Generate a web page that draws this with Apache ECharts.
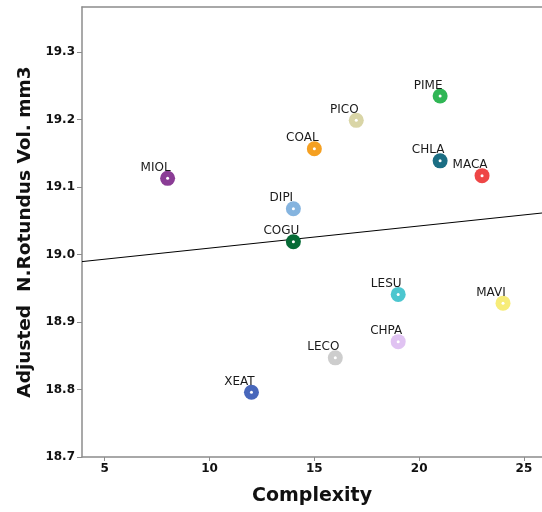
<!DOCTYPE html>
<html lang="en" style="height: 100%">
<head>
    <meta charset="UTF-8">
    <title>Complexity vs Adjusted N.Rotundus Vol.</title>
    <script src="https://cdn.jsdelivr.net/npm/echarts@6/dist/echarts.min.js"></script>
</head>
<body style="height: 100%; margin: 0">
<div id="main" style="width: 542px; height: 512px"></div>
<script>
    var species = ['MIOL', 'DIPI', 'COGU', 'COAL', 'PICO', 'PIME', 'CHLA', 'MACA', 'LESU', 'MAVI', 'CHPA', 'LECO', 'XEAT'];
    var complexity = [8, 14, 14, 15, 17, 21, 21, 23, 19, 24, 19, 16, 12];
    var volume = [19.113, 19.068, 19.019, 19.157, 19.199, 19.235, 19.139, 19.117, 18.941, 18.928, 18.871, 18.847, 18.796];
    var colors = ['#8a3c95', '#85b4df', '#066b36', '#f5a021', '#d9d5a6', '#30b655', '#1b6e84', '#ee4646', '#4cc6cf', '#f7ec78', '#e0c3f2', '#cdcdcd', '#4867bb'];
    var xTicks = [5, 10, 15, 20, 25];
    var yTicks = [18.7, 18.8, 18.9, 19.0, 19.1, 19.2, 19.3];
    var xRange = [3.916, 25.86];
    var yRange = [18.7, 19.367];

    // least squares fit line
    var n = complexity.length, mx = 0, my = 0;
    for (var i = 0; i < n; i++) { mx += complexity[i]; my += volume[i]; }
    mx /= n; my /= n;
    var sxy = 0, sxx = 0;
    for (var i = 0; i < n; i++) {
        sxy += (complexity[i] - mx) * (volume[i] - my);
        sxx += (complexity[i] - mx) * (complexity[i] - mx);
    }
    var slope = sxy / sxx, icpt = my - slope * mx;
    var fitLine = xRange.map(function (x) { return [x, icpt + slope * x]; });

    var pts = species.map(function (s, i) {
        return {name: s, value: [complexity[i], volume[i]], itemStyle: {color: colors[i], opacity: 1}};
    });
    var dots = species.map(function (s, i) { return [complexity[i], volume[i]]; });

    var font = 'DejaVu Sans';
    var axisGray = '#8c8c8c';

    var myoption = {
        animation: false,
        grid: {left: 82, top: 7, right: 0, bottom: 55},
        xAxis: [{
            type: 'value',
            min: xRange[0], max: xRange[1],
            name: 'Complexity',
            nameLocation: 'middle',
            nameGap: 30,
            nameTextStyle: {fontFamily: font, fontWeight: 'bold', fontSize: 19, color: '#111'},
            splitLine: {show: false},
            axisLine: {lineStyle: {color: axisGray, width: 1.5}},
            axisTick: {length: 4, lineStyle: {color: axisGray}, customValues: xTicks},
            axisLabel: {customValues: xTicks, fontFamily: font, fontWeight: 'bold', fontSize: 12, color: '#111', margin: 6}
        }, {
            type: 'value',
            position: 'top',
            min: xRange[0], max: xRange[1],
            splitLine: {show: false},
            axisLine: {show: true, lineStyle: {color: axisGray, width: 1.5}},
            axisTick: {show: false},
            axisLabel: {show: false}
        }],
        yAxis: {
            type: 'value',
            min: yRange[0], max: yRange[1],
            name: 'Adjusted  N.Rotundus Vol. mm3',
            nameLocation: 'middle',
            nameGap: 42,
            nameTextStyle: {fontFamily: font, fontWeight: 'bold', fontSize: 18.5, color: '#111'},
            splitLine: {show: false},
            axisLine: {show: true, lineStyle: {color: axisGray, width: 1.5}},
            axisTick: {show: true, length: 5, lineStyle: {color: axisGray}, customValues: yTicks},
            axisLabel: {
                customValues: yTicks, fontFamily: font, fontWeight: 'bold', fontSize: 12, color: '#111', margin: 7,
                formatter: function (v) { return v.toFixed(1); }
            }
        },
        series: [
            {
                type: 'line',
                data: fitLine,
                showSymbol: false,
                silent: true,
                lineStyle: {color: '#000', width: 1},
                z: 1
            },
            {
                type: 'scatter',
                data: pts,
                symbolSize: 15,
                label: {
                    show: true,
                    position: 'top',
                    distance: 0,
                    offset: [-12, 3],
                    formatter: '{b}',
                    fontFamily: font,
                    fontSize: 12,
                    color: '#1a1a1a'
                },
                z: 2
            },
            {
                type: 'scatter',
                data: dots,
                symbolSize: 3,
                silent: true,
                itemStyle: {color: '#fff', opacity: 1},
                z: 3
            }
        ]
    };
    var myChart = echarts.init(document.getElementById('main'));
    myChart.setOption(myoption);
</script>
</body>
</html>
